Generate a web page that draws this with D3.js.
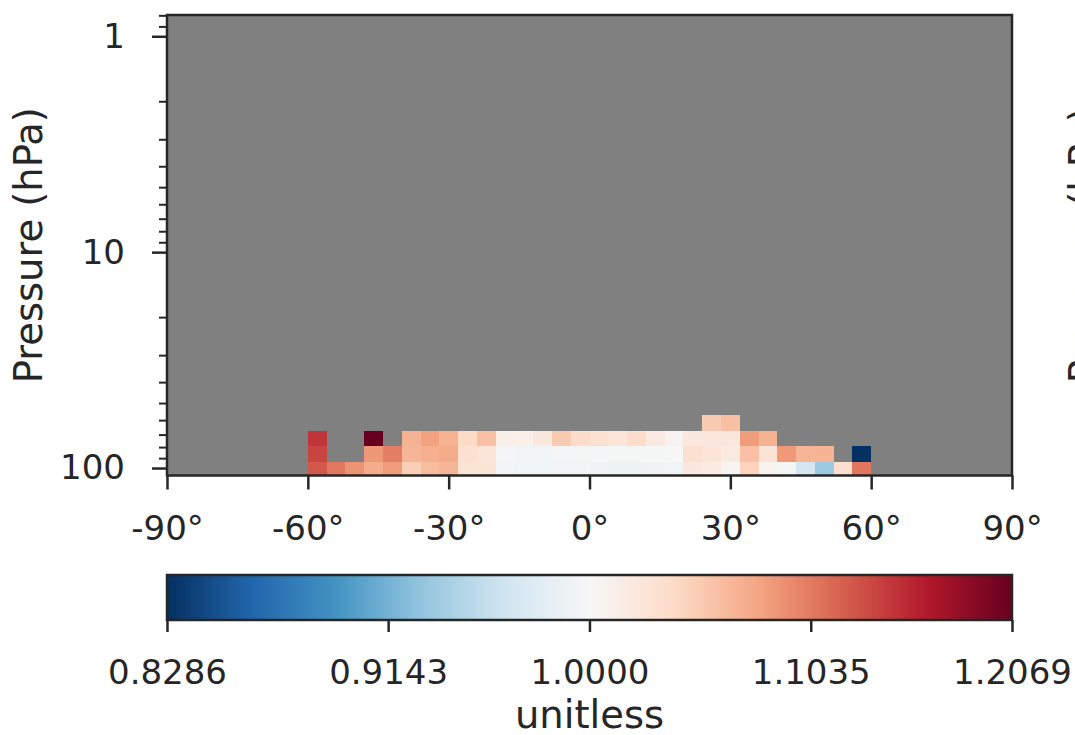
<!DOCTYPE html>
<html><head><meta charset="utf-8">
<script src="https://cdn.jsdelivr.net/npm/d3@7"></script>
<style>
body{margin:0;background:#fff}
svg{display:block}
text{font-family:"DejaVu Sans",sans-serif;fill:#262626}
</style>
</head><body>
<svg id="chart" width="1075" height="735"></svg>
<script>
// ---- data ----
const latEdges = [-60,-56,-52,-48,-44,-40,-36,-32,-28,-24,-20,-16,-12,-8,-4,0,4,8,12,16,20,24,28,32,36,40,44,48,52,56,60];
const pressureEdges = [108.3, 93.5, 78.9, 67.2, 56.9];
// ratio values per latitude bin (south -> north), one array per pressure layer (bottom -> top)
const layer1 = [1.124,1.105,1.089,1.073,1.084,1.048,1.061,1.066,1.027,1.027,0.995,0.993,0.994,0.994,0.993,0.992,0.990,0.990,0.992,0.994,1.020,1.018,1.004,1.044,1.006,0.997,0.968,0.933,1.033,1.106];
const layer2 = [1.136,null,null,1.086,1.102,1.066,1.070,1.073,1.031,1.025,0.996,0.993,0.994,0.996,0.997,0.996,0.997,0.997,0.997,1.000,1.031,1.025,1.018,1.058,1.026,1.085,1.066,1.067,null,0.829];
const layer3 = [1.145,null,null,1.2069,null,1.068,1.080,1.068,1.038,1.058,1.011,1.010,1.021,1.050,1.037,1.031,1.024,1.037,1.017,1.005,1.021,1.020,1.020,1.083,1.068,null,null,null,null,null];
const layer4 = [null,null,null,null,null,null,null,null,null,null,null,null,null,null,null,null,null,null,null,null,null,1.050,1.059,null,null,null,null,null,null,null];
const layers = [layer1, layer2, layer3, layer4];

const xTicks = [-90,-60,-30,0,30,60,90];
const yMajorTicks = [1,10,100];
const yMinorTicks = [0.8,0.9,2,3,4,5,6,7,8,9,20,30,40,50,60,70,80,90];
const cbarTicks = [0.8286,0.9143,1.0000,1.1035,1.2069];
const vmin = 0.8286, vmax = 1.2069;
const latDomain = [-90, 90];
const pDomain = [108.3, 0.797];
const cmapColors = ["#053061","#2166ac","#4393c3","#92c5de","#d1e5f0","#f7f7f7","#fddbc7","#f4a582","#d6604d","#b2182b","#67001f"];

// ---- layout ----
const L = 167, R = 1012, T = 15, B = 475.5;
const cbT = 575, cbB = 620;
const ink = "#262626";
const labelSize = 38.5;

const svg = d3.select("#chart");
const x = d3.scaleLinear().domain(latDomain).range([L, R]);
const y = d3.scaleLog().domain(pDomain).range([B, T]);
const norm = d3.scaleLog().domain([vmin, vmax]).range([0, 1]).clamp(true);
const cmap = d3.scaleLinear().domain(cmapColors.map((c,i)=>i/(cmapColors.length-1))).range(cmapColors).interpolate(d3.interpolateRgb);
const color = v => cmap(norm(v));

// background (masked area)
svg.append("rect").attr("x",L).attr("y",T).attr("width",R-L).attr("height",B-T).attr("fill","#808080");

// cells
const cells = [];
layers.forEach((vals, j) => vals.forEach((v, i) => {
  if (v !== null) cells.push({lat0: latEdges[i], lat1: latEdges[i+1], p0: pressureEdges[j], p1: pressureEdges[j+1], v});
}));
svg.append("g").selectAll("rect").data(cells).join("rect")
  .attr("x", d => x(d.lat0)).attr("width", d => x(d.lat1) - x(d.lat0))
  .attr("y", d => y(d.p1))
  .attr("height", d => y(d.p0) - y(d.p1))
  .attr("fill", d => color(d.v))
  .attr("shape-rendering","crispEdges");

function styleAxis(g, fs, w){
  g.select(".domain").remove();
  g.selectAll("line").attr("stroke", ink).attr("stroke-width", w);
  g.selectAll("text").attr("fill", ink).style("font-size", fs+"px").style("font-family","DejaVu Sans");
}

// x axis
const gx = svg.append("g").attr("transform",`translate(0,${B})`)
  .call(d3.axisBottom(x).tickValues(xTicks).tickSize(14).tickPadding(26).tickFormat(d => d + "°"));
styleAxis(gx, 34, 2.5);

// y axis minor
const gym = svg.append("g").attr("transform",`translate(${L},0)`)
  .call(d3.axisLeft(y).tickValues(yMinorTicks).tickSize(8).tickFormat(""));
styleAxis(gym, 34, 2);
// y axis major
const gy = svg.append("g").attr("transform",`translate(${L},0)`)
  .call(d3.axisLeft(y).tickValues(yMajorTicks).tickSize(15).tickPadding(27).tickFormat(d3.format("d")));
styleAxis(gy, 34, 2.5);

// frame
svg.append("rect").attr("x",L).attr("y",T).attr("width",R-L).attr("height",B-T)
  .attr("fill","none").attr("stroke",ink).attr("stroke-width",2.5);

// y label
svg.append("text").attr("transform",`translate(42,${(T+B)/2}) rotate(-90)`)
  .attr("text-anchor","middle").style("font-size",labelSize+"px").text("Pressure (hPa)");
// neighbouring panel's label (cut at the right edge, as in the reference)
svg.append("text").attr("transform",`translate(1097,${(T+B)/2}) rotate(-90)`)
  .attr("text-anchor","middle").style("font-size",labelSize+"px").text("Pressure (hPa)");

// colorbar
const cbx = d3.scaleLog().domain([vmin, vmax]).range([L, R]);
const defs = svg.append("defs");
const grad = defs.append("linearGradient").attr("id","cbgrad").attr("x1","0%").attr("x2","100%").attr("y1","0%").attr("y2","0%");
const nStops = 64;
for (let k = 0; k <= nStops; k++) {
  const f = k / nStops;
  grad.append("stop").attr("offset", (f*100)+"%").attr("stop-color", cmap(f));
}
svg.append("rect").attr("x",L).attr("y",cbT).attr("width",R-L).attr("height",cbB-cbT).attr("fill","url(#cbgrad)");
const gcb = svg.append("g").attr("transform",`translate(0,${cbB})`)
  .call(d3.axisBottom(cbx).tickValues(cbarTicks).tickSize(12).tickPadding(28).tickFormat(d3.format(".4f")));
styleAxis(gcb, 34, 2.5);
svg.append("rect").attr("x",L).attr("y",cbT).attr("width",R-L).attr("height",cbB-cbT)
  .attr("fill","none").attr("stroke",ink).attr("stroke-width",2.5);
svg.append("text").attr("x",(L+R)/2).attr("y",728).attr("text-anchor","middle").style("font-size",labelSize+"px").text("unitless");
</script>
</body></html>
